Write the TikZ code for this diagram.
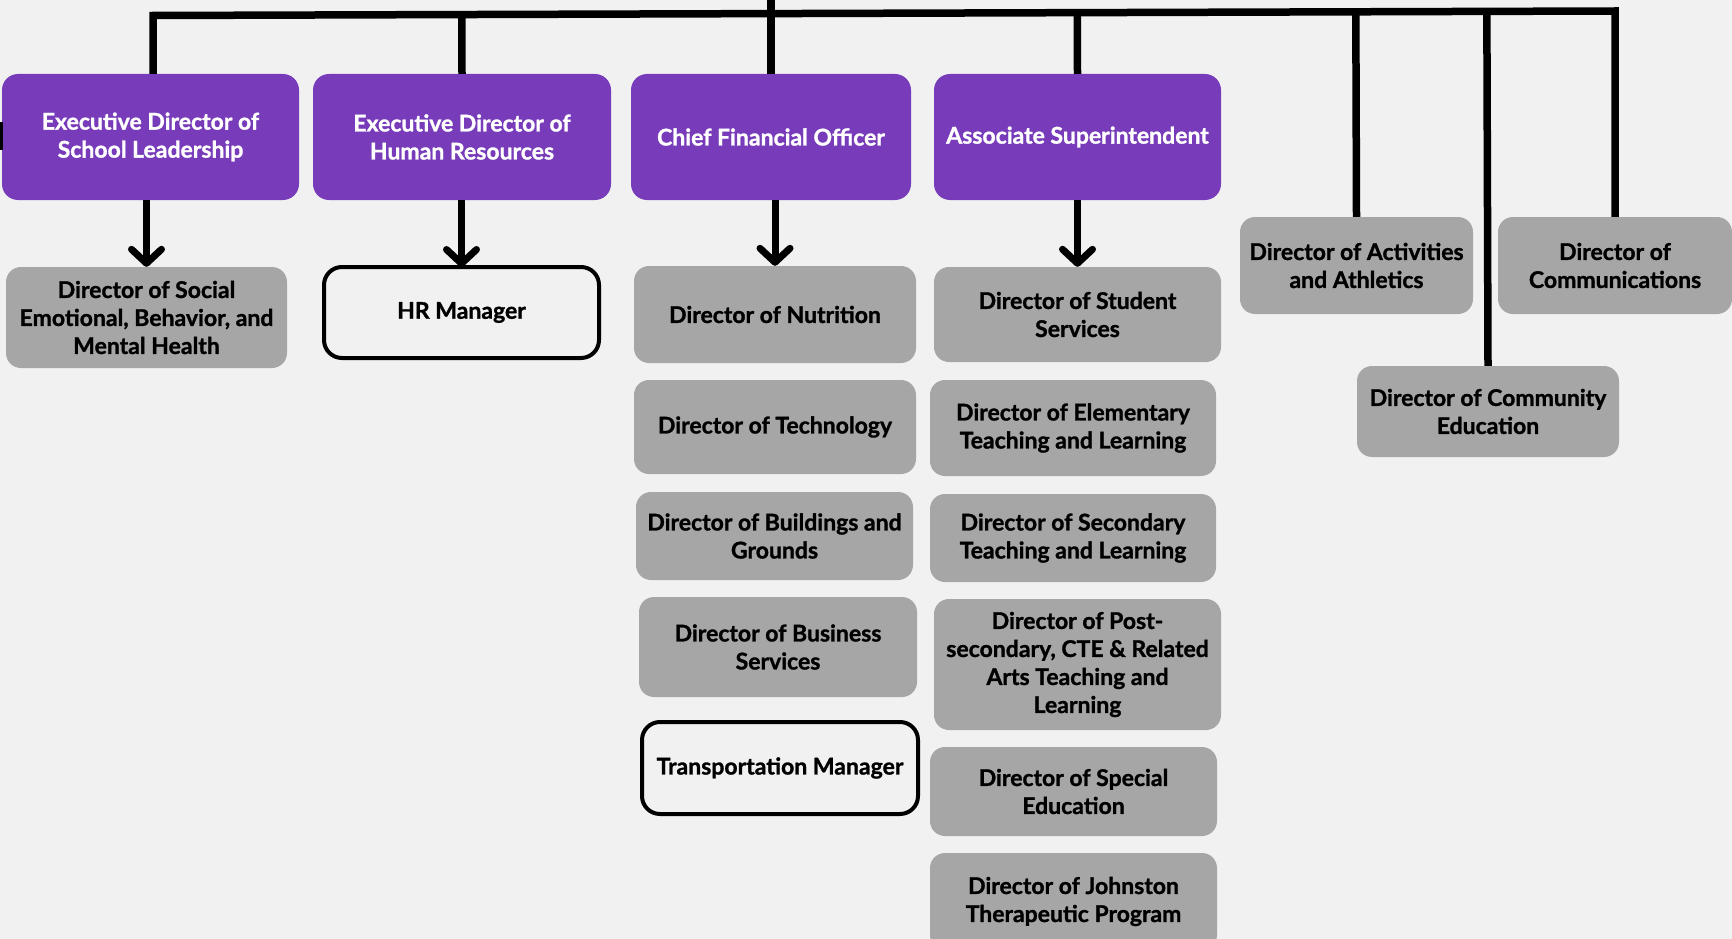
\documentclass[tikz,border=0pt]{standalone}
\usepackage{fontspec}
\setmainfont{Lato}[BoldFeatures={FakeBold=1.2}]
\usetikzlibrary{arrows.meta,calc}
\definecolor{bg}{HTML}{F1F1F1}
\definecolor{purp}{HTML}{783CBA}
\definecolor{grayb}{HTML}{A6A6A6}
\begin{document}
\begin{tikzpicture}[x=1pt,y=-1pt,
  txt/.style={font=\bfseries\fontsize{23}{28}\selectfont, align=center, inner sep=0pt},
  lead/.style={txt, rectangle, rounded corners=16pt, fill=purp, text=white},
  dir/.style={txt, rectangle, rounded corners=15pt, fill=grayb, text=black},
  mgr/.style={txt, rectangle, rounded corners=18pt, draw=black, line width=4pt, fill=bg, text=black},
  link/.style={line width=7.5pt, line join=miter},
  down/.style={line width=7pt, -{Straight Barb[length=14pt,width=30pt,line cap=round,line join=round]}}
]
\clip (0,0) rectangle (1732,939);
\fill[bg] (0,0) rectangle (1732,939);

% leaders
\node[lead, minimum width=297pt, minimum height=126pt] (p1) at (150.5,137) {Executive Director of\\School Leadership};
\node[lead, minimum width=298pt, minimum height=126pt] (p2) at (462,137) {Executive Director of\\Human Resources};
\node[lead, minimum width=280pt, minimum height=126pt] (p3) at (771,137) {Chief Financial Officer};
\node[lead, minimum width=287pt, minimum height=126pt] (p4) at (1077.5,137) {Associate Superintendent};

% column 1-2
\node[dir, minimum width=281pt, minimum height=101pt] (g1) at (146.5,317.5) {Director of Social\\Emotional, Behavior, and\\Mental Health};
\node[mgr, minimum width=275pt, minimum height=91pt] (hrm) at (461.5,312.5) {HR Manager};

% CFO column
\node[dir, minimum width=282pt, minimum height=97pt] (nut) at (775,314.5) {Director of Nutrition};
\node[dir, minimum width=282pt, minimum height=94pt] (tech) at (775,427) {Director of Technology};
\node[dir, minimum width=277pt, minimum height=88pt] (bld) at (774.5,536) {Director of Buildings and\\Grounds};
\node[dir, minimum width=278pt, minimum height=100pt] (bus) at (778,647) {Director of Business\\Services};
\node[mgr, minimum width=276pt, minimum height=92pt] (trn) at (780,768) {Transportation Manager};

% Associate column
\node[dir, minimum width=287pt, minimum height=95pt] (stu) at (1077.5,314.5) {Director of Student\\Services};
\node[dir, minimum width=286pt, minimum height=96pt] (elem) at (1073,428) {Director of Elementary\\Teaching and Learning};
\node[dir, minimum width=286pt, minimum height=88pt] (sec) at (1073,538) {Director of Secondary\\Teaching and Learning};
\node[dir, minimum width=287pt, minimum height=131pt] (post) at (1077.5,664.5) {Director of Post-\\secondary, CTE \& Related\\Arts Teaching and\\Learning};
\node[dir, minimum width=287pt, minimum height=89pt] (spec) at (1073.5,791.5) {Director of Special\\Education};
\node[dir, minimum width=287pt, minimum height=97pt] (john) at (1073.5,901.5) {Director of Johnston\\Therapeutic Program};

% right group
\node[dir, minimum width=233pt, minimum height=97pt] (act) at (1356.5,265.5) {Director of Activities\\and Athletics};
\node[dir, minimum width=234pt, minimum height=97pt] (com) at (1615,265.5) {Director of\\Communications};
\node[dir, minimum width=262pt, minimum height=91pt] (cmty) at (1488,411.5) {Director of Community\\Education};

% top bar
\coordinate (barL) at (153,15.5);
\coordinate (barR) at (1615,11);
\coordinate (top) at (771,-10);
\draw[link] (p1.north -| barL) -- (barL) -- (barR) -- (com.north);
\draw[link] (p2.north) -- ($(barL)!(p2.north)!(barR)$);
\draw[link] (p3.north) -- (top);
\draw[link] (p4.north) -- ($(barL)!(p4.north)!(barR)$);
\draw[link] (act.north) -- ($(barL)!(act.north)!(barR)$);
\draw[link] (cmty.north) -- ($(barL)!(cmty.north)!(barR)$);

% left edge stub
\fill[black] (0,122) rectangle (3,150);

% arrows
\draw[down] (p1.south -| g1.north) -- (g1.north);
\draw[down] (p2.south -| hrm.north) -- ([yshift=-2pt]hrm.north);
\draw[down] (p3.south -| nut.north) -- (nut.north);
\draw[down] (p4.south -| stu.north) -- (stu.north);
\end{tikzpicture}
\end{document}
